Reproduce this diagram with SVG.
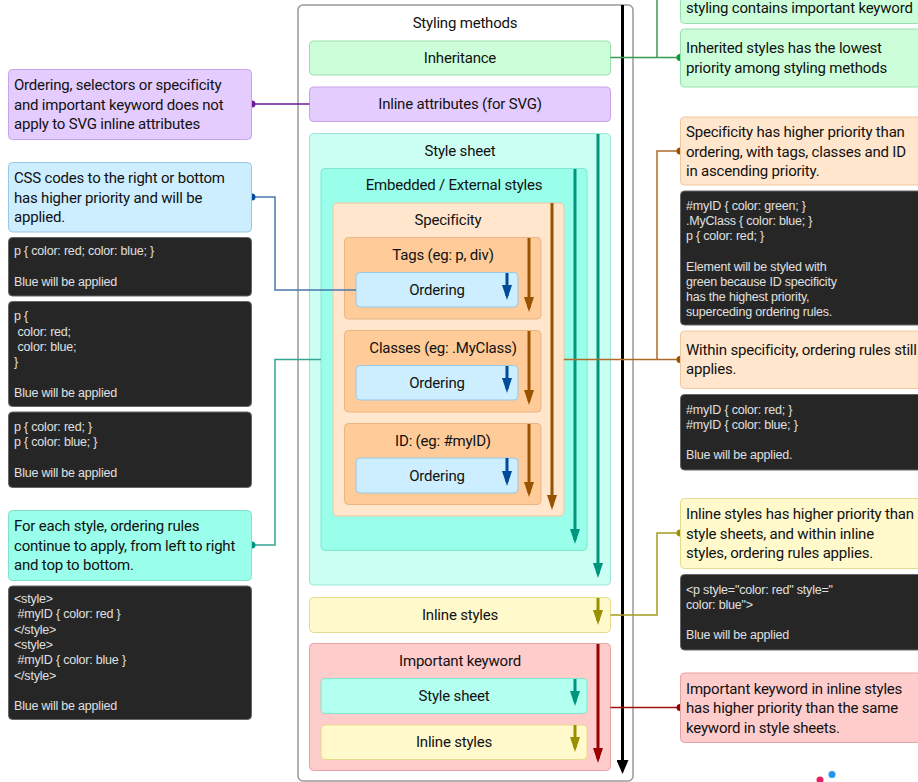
<svg xmlns="http://www.w3.org/2000/svg" width="918" height="782" viewBox="0 0 918 782">
<style>
.lbl{font-family:Roboto,"Liberation Sans",sans-serif;font-size:15px;fill:#111;text-anchor:middle;letter-spacing:-0.2px}
.note{font-family:Roboto,"Liberation Sans",sans-serif;font-size:15px;fill:#111;letter-spacing:-0.2px}
.code{font-family:"Liberation Sans",Arial,sans-serif;font-size:12.5px;fill:#e0e0e0;letter-spacing:-0.2px}
.dark{fill:#262626;stroke:#666;stroke-width:1}
.conn{fill:none;stroke-width:1.5}
.arr{fill:none;stroke-width:3}
</style>
<defs>
<marker id="mk-black" viewBox="0 0 14 12" refX="10" refY="6" markerWidth="14" markerHeight="12" markerUnits="userSpaceOnUse" orient="auto"><path d="M0,0 L14,6 L0,12 z" fill="#000"/></marker>
<marker id="mk-teal" viewBox="0 0 15 10" refX="11" refY="5" markerWidth="15" markerHeight="10" markerUnits="userSpaceOnUse" orient="auto"><path d="M0,0 L15,5 L0,10 z" fill="#00967d"/></marker>
<marker id="mk-brown" viewBox="0 0 15 10" refX="11" refY="5" markerWidth="15" markerHeight="10" markerUnits="userSpaceOnUse" orient="auto"><path d="M0,0 L15,5 L0,10 z" fill="#995200"/></marker>
<marker id="mk-blue" viewBox="0 0 15 10" refX="11" refY="5" markerWidth="15" markerHeight="10" markerUnits="userSpaceOnUse" orient="auto"><path d="M0,0 L15,5 L0,10 z" fill="#004c99"/></marker>
<marker id="mk-olive" viewBox="0 0 15 10" refX="11" refY="5" markerWidth="15" markerHeight="10" markerUnits="userSpaceOnUse" orient="auto"><path d="M0,0 L15,5 L0,10 z" fill="#998f00"/></marker>
<marker id="mk-red" viewBox="0 0 15 10" refX="11" refY="5" markerWidth="15" markerHeight="10" markerUnits="userSpaceOnUse" orient="auto"><path d="M0,0 L15,5 L0,10 z" fill="#990000"/></marker>
</defs>
<rect width="918" height="782" fill="#fff"/>

<g id="styling-methods">
<rect x="298" y="5" width="335" height="776" rx="5" fill="#fff" stroke="#999" stroke-width="1.5"/>
<text class="lbl" x="465" y="28">Styling methods</text>
</g>
<g id="inheritance">
<rect x="309.5" y="41" width="301" height="34" rx="4" fill="#ccffd9" stroke="#99e0ad"/>
<text class="lbl" x="460" y="63">Inheritance</text>
</g>
<g id="inline-attributes">
<rect x="309.5" y="87" width="301" height="34.5" rx="4" fill="#e5ccff" stroke="#c8a3ea"/>
<text class="lbl" x="460" y="109">Inline attributes (for SVG)</text>
</g>
<g id="style-sheet">
<rect x="309.5" y="133.5" width="301" height="451.5" rx="4" fill="#ccfff4" stroke="#99e6d6"/>
<text class="lbl" x="460" y="156">Style sheet</text>
</g>
<g id="embedded-external">
<rect x="321" y="168.5" width="266" height="382" rx="4" fill="#99ffea" stroke="#80e6cc"/>
<text class="lbl" x="454" y="190">Embedded / External styles</text>
</g>
<g id="specificity">
<rect x="333" y="203" width="231" height="313" rx="4" fill="#ffe6cc" stroke="#f0c8a0"/>
<text class="lbl" x="448" y="225">Specificity</text>
</g>
<g id="tags">
<rect x="344.5" y="237.5" width="196.5" height="81.5" rx="4" fill="#ffcc99" stroke="#eab584"/>
<text class="lbl" x="443" y="260">Tags (eg: p, div)</text>
</g>
<g id="ordering-tags">
<rect x="356" y="272.5" width="162" height="34.5" rx="4" fill="#cceeff" stroke="#99c8e6"/>
<text class="lbl" x="437" y="295">Ordering</text>
</g>
<g id="classes">
<rect x="344.5" y="330.5" width="196.5" height="81.5" rx="4" fill="#ffcc99" stroke="#eab584"/>
<text class="lbl" x="443" y="353">Classes (eg: .MyClass)</text>
</g>
<g id="ordering-classes">
<rect x="356" y="365.5" width="162" height="34.5" rx="4" fill="#cceeff" stroke="#99c8e6"/>
<text class="lbl" x="437" y="388">Ordering</text>
</g>
<g id="id">
<rect x="344.5" y="423.5" width="196.5" height="81" rx="4" fill="#ffcc99" stroke="#eab584"/>
<text class="lbl" x="443" y="446">ID: (eg: #myID)</text>
</g>
<g id="ordering-id">
<rect x="356" y="458" width="162" height="35" rx="4" fill="#cceeff" stroke="#99c8e6"/>
<text class="lbl" x="437" y="481">Ordering</text>
</g>
<g id="inline-styles">
<rect x="309.5" y="597.5" width="301" height="35" rx="4" fill="#fff9cc" stroke="#e6da8c"/>
<text class="lbl" x="460" y="620">Inline styles</text>
</g>
<g id="important-keyword">
<rect x="309.5" y="643.5" width="301" height="127" rx="4" fill="#ffcccc" stroke="#e6a3a3"/>
<text class="lbl" x="460" y="666">Important keyword</text>
</g>
<g id="important-style-sheet">
<rect x="321" y="678.5" width="266" height="35" rx="4" fill="#b3fff0" stroke="#80e6cc"/>
<text class="lbl" x="454" y="701">Style sheet</text>
</g>
<g id="important-inline-styles">
<rect x="321" y="725" width="266" height="34.5" rx="4" fill="#fff9cc" stroke="#e6da8c"/>
<text class="lbl" x="454" y="747">Inline styles</text>
</g>

<g id="priority-arrows">
<line class="arr" x1="622.5" y1="5" x2="622.5" y2="770" stroke="#000" stroke-width="3.5" marker-end="url(#mk-black)"/>
<line class="arr" x1="598" y1="134" x2="598" y2="574" stroke="#00967d" marker-end="url(#mk-teal)"/>
<line class="arr" x1="575" y1="169" x2="575" y2="540" stroke="#00967d" marker-end="url(#mk-teal)"/>
<line class="arr" x1="552" y1="203" x2="552" y2="506" stroke="#995200" marker-end="url(#mk-brown)"/>
<line class="arr" x1="529" y1="238" x2="529" y2="308" stroke="#995200" marker-end="url(#mk-brown)"/>
<line class="arr" x1="529" y1="331" x2="529" y2="401" stroke="#995200" marker-end="url(#mk-brown)"/>
<line class="arr" x1="529" y1="424" x2="529" y2="493" stroke="#995200" marker-end="url(#mk-brown)"/>
<line class="arr" x1="507" y1="273" x2="507" y2="296" stroke="#004c99" marker-end="url(#mk-blue)"/>
<line class="arr" x1="507" y1="366" x2="507" y2="389" stroke="#004c99" marker-end="url(#mk-blue)"/>
<line class="arr" x1="507" y1="458" x2="507" y2="482" stroke="#004c99" marker-end="url(#mk-blue)"/>
<line class="arr" x1="598" y1="598" x2="598" y2="621" stroke="#998f00" marker-end="url(#mk-olive)"/>
<line class="arr" x1="598" y1="644" x2="598" y2="759" stroke="#990000" marker-end="url(#mk-red)"/>
<line class="arr" x1="575" y1="679" x2="575" y2="702" stroke="#00967d" marker-end="url(#mk-teal)"/>
<line class="arr" x1="575" y1="725" x2="575" y2="748" stroke="#998f00" marker-end="url(#mk-olive)"/>
</g>

<g id="connectors">
<path class="conn" d="M252,104 H309.5" stroke="#6a1b9a"/>
<circle cx="252" cy="104" r="3.5" fill="#6a1b9a"/>
<path class="conn" d="M252,197 H275 V290 H356" stroke="#4a78ad"/>
<circle cx="252" cy="197" r="3.5" fill="#004c99"/>
<path class="conn" d="M252,545 H275 V359.5 H321" stroke="#33a593"/>
<circle cx="252" cy="545" r="3.5" fill="#00967d"/>
<path class="conn" d="M610.5,57.5 H680 M657,57.5 V0" stroke="#3a9a4e"/>
<circle cx="680" cy="57.5" r="3.5" fill="#00a030"/>
<path class="conn" d="M564,359.5 H680 M657,359.5 V151 H680" stroke="#b06a28"/>
<circle cx="680" cy="151" r="3.5" fill="#995200"/>
<circle cx="680" cy="359.5" r="3.5" fill="#995200"/>
<path class="conn" d="M610.5,615 H657 V533 H680" stroke="#a69a1e"/>
<circle cx="680" cy="533" r="3.5" fill="#998f00"/>
<path class="conn" d="M610.5,707.5 H680" stroke="#a01010"/>
<circle cx="680" cy="707.5" r="3.5" fill="#990000"/>
</g>

<g id="note-svg-attributes">
<rect x="8.5" y="69.5" width="243" height="70" rx="4" fill="#e5ccff" stroke="#c8a3ea"/>
<text class="note" x="14" y="90">Ordering, selectors or specificity</text>
<text class="note" x="14" y="109.5">and important keyword does not</text>
<text class="note" x="14" y="129">apply to SVG inline attributes</text>
</g>
<g id="note-ordering">
<rect x="8.5" y="162.5" width="243" height="69.5" rx="4" fill="#cceeff" stroke="#99c8e6"/>
<text class="note" x="14" y="183">CSS codes to the right or bottom</text>
<text class="note" x="14" y="202.5">has higher priority and will be</text>
<text class="note" x="14" y="222">applied.</text>
</g>
<g id="code-ordering-1">
<rect class="dark" x="8.5" y="237.5" width="243" height="58.5" rx="4"/>
<text class="code" x="14" y="255">p { color: red; color: blue; }</text>
<text class="code" x="14" y="286">Blue will be applied</text>
</g>
<g id="code-ordering-2">
<rect class="dark" x="8.5" y="301.5" width="243" height="105" rx="4"/>
<text class="code" x="14" y="320">p {</text>
<text class="code" x="17.5" y="335.5">color: red;</text>
<text class="code" x="17.5" y="351">color: blue;</text>
<text class="code" x="14" y="366">}</text>
<text class="code" x="14" y="396.5">Blue will be applied</text>
</g>
<g id="code-ordering-3">
<rect class="dark" x="8.5" y="412" width="243" height="75.5" rx="4"/>
<text class="code" x="14" y="430.5">p { color: red; }</text>
<text class="code" x="14" y="446">p { color: blue; }</text>
<text class="code" x="14" y="476.5">Blue will be applied</text>
</g>
<g id="note-each-style">
<rect x="8.5" y="510.5" width="243" height="70" rx="4" fill="#99ffea" stroke="#80e0cc"/>
<text class="note" x="14" y="531">For each style, ordering rules</text>
<text class="note" x="14" y="550.5">continue to apply, from left to right</text>
<text class="note" x="14" y="570">and top to bottom.</text>
</g>
<g id="code-each-style">
<rect class="dark" x="8.5" y="586" width="243" height="133.5" rx="4"/>
<text class="code" x="14" y="602.5">&lt;style&gt;</text>
<text class="code" x="17.5" y="618">#myID { color: red }</text>
<text class="code" x="14" y="633.5">&lt;/style&gt;</text>
<text class="code" x="14" y="648.5">&lt;style&gt;</text>
<text class="code" x="17.5" y="664">#myID { color: blue }</text>
<text class="code" x="14" y="679.5">&lt;/style&gt;</text>
<text class="code" x="14" y="710">Blue will be applied</text>
</g>

<g id="note-important-top">
<rect x="680.5" y="-40" width="250" height="63.5" rx="4" fill="#ccffd9" stroke="#99e0ad"/>
<text class="note" x="686" y="13">styling contains important keyword</text>
</g>
<g id="note-inherited">
<rect x="680.5" y="29" width="250" height="58" rx="4" fill="#ccffd9" stroke="#99e0ad"/>
<text class="note" x="686" y="53">Inherited styles has the lowest</text>
<text class="note" x="686" y="72.5">priority among styling methods</text>
</g>
<g id="note-specificity">
<rect x="680.5" y="117" width="250" height="68" rx="4" fill="#ffe6cc" stroke="#f0c8a0"/>
<text class="note" x="686" y="137">Specificity has higher priority than</text>
<text class="note" x="686" y="156.5">ordering, with tags, classes and ID</text>
<text class="note" x="686" y="176">in ascending priority.</text>
</g>
<g id="code-specificity">
<rect class="dark" x="680.5" y="191" width="250" height="134" rx="4"/>
<text class="code" x="686" y="209.5">#myID { color: green; }</text>
<text class="code" x="686" y="224.5">.MyClass { color: blue; }</text>
<text class="code" x="686" y="240">p { color: red; }</text>
<text class="code" x="686" y="270.5">Element will be styled with</text>
<text class="code" x="686" y="285.5">green because ID specificity</text>
<text class="code" x="686" y="301">has the highest priority,</text>
<text class="code" x="686" y="316">superceding ordering rules.</text>
</g>
<g id="note-within-specificity">
<rect x="680.5" y="331" width="250" height="57.5" rx="4" fill="#ffe6cc" stroke="#f0c8a0"/>
<text class="note" x="686" y="354.5">Within specificity, ordering rules still</text>
<text class="note" x="686" y="374">applies.</text>
</g>
<g id="code-within-specificity">
<rect class="dark" x="680.5" y="394.5" width="250" height="75.5" rx="4"/>
<text class="code" x="686" y="413.5">#myID { color: red; }</text>
<text class="code" x="686" y="428.5">#myID { color: blue; }</text>
<text class="code" x="686" y="459">Blue will be applied.</text>
</g>
<g id="note-inline-styles">
<rect x="680.5" y="498.5" width="250" height="70" rx="4" fill="#fff9cc" stroke="#e6da8c"/>
<text class="note" x="686" y="519">Inline styles has higher priority than</text>
<text class="note" x="686" y="538.5">style sheets, and within inline</text>
<text class="note" x="686" y="558">styles, ordering rules applies.</text>
</g>
<g id="code-inline-styles">
<rect class="dark" x="680.5" y="574.5" width="250" height="75.5" rx="4"/>
<text class="code" x="686" y="593.5">&lt;p style="color: red" style="</text>
<text class="code" x="686" y="608.5">color: blue"&gt;</text>
<text class="code" x="686" y="639">Blue will be applied</text>
</g>
<g id="note-important">
<rect x="680.5" y="673" width="250" height="69.5" rx="4" fill="#ffcccc" stroke="#e6a3a3"/>
<text class="note" x="686" y="693.5">Important keyword in inline styles</text>
<text class="note" x="686" y="713">has higher priority than the same</text>
<text class="note" x="686" y="732.5">keyword in style sheets.</text>
</g>

<g id="logo">
<circle cx="820" cy="780" r="3.5" fill="#e91e63"/>
<circle cx="832" cy="774.5" r="3.5" fill="#2196f3"/>
</g>
</svg>
